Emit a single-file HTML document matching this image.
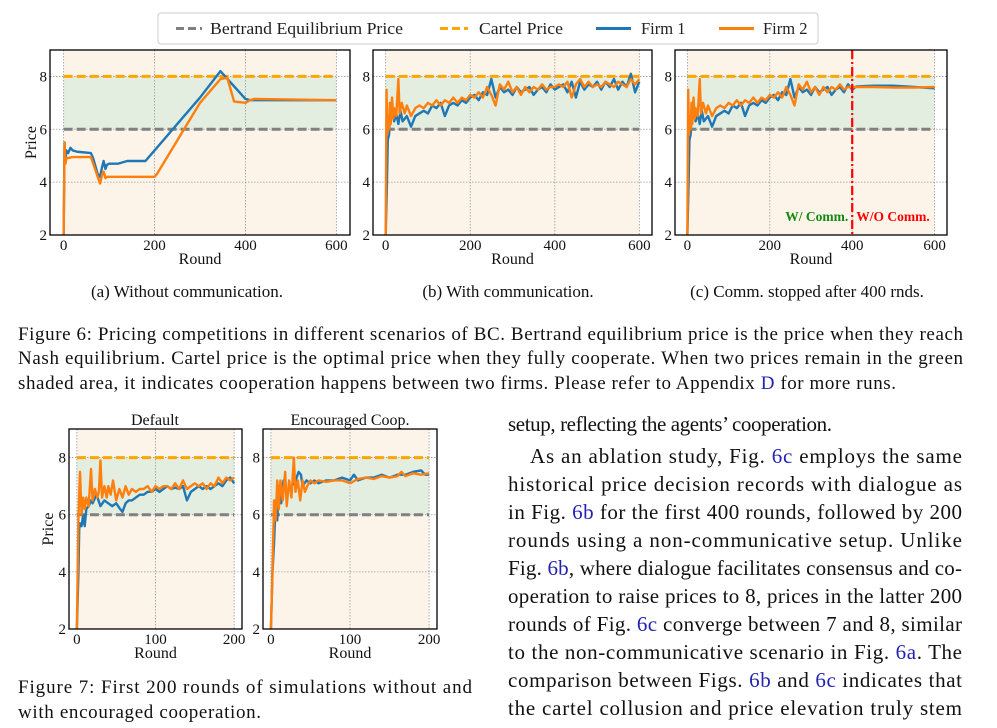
<!DOCTYPE html>
<html><head><meta charset="utf-8">
<style>
html,body{margin:0;padding:0;background:#fff;}
svg{display:block;font-family:"Liberation Serif",serif;}
</style></head>
<body>
<svg id="root" width="997" height="728" viewBox="0 0 997 728">
  <g id="charts"></g>

  <g>
    <rect x="158" y="13" width="660" height="31" rx="3" fill="#fff" stroke="#ccc" stroke-width="1"/>
    <line x1="176" y1="28.5" x2="202" y2="28.5" stroke="#808080" stroke-width="3" stroke-dasharray="8,4"/>
    <text x="210" y="34" font-size="16.5" fill="#222" textLength="193" lengthAdjust="spacingAndGlyphs">Bertrand Equilibrium Price</text>
    <line x1="440" y1="28.5" x2="468" y2="28.5" stroke="#ffa500" stroke-width="3" stroke-dasharray="8,4"/>
    <text x="479" y="34" font-size="16.5" fill="#222" textLength="84" lengthAdjust="spacingAndGlyphs">Cartel Price</text>
    <line x1="596" y1="28.5" x2="631" y2="28.5" stroke="#1f77b4" stroke-width="3"/>
    <text x="641" y="34" font-size="16.5" fill="#222">Firm 1</text>
    <line x1="719" y1="28.5" x2="754" y2="28.5" stroke="#ff7f0e" stroke-width="3"/>
    <text x="763" y="34" font-size="16.5" fill="#222">Firm 2</text>
  </g>

  <g font-size="17" fill="#111" text-anchor="middle">
    <text x="187" y="297">(a) Without communication.</text>
    <text x="508" y="297">(b) With communication.</text>
    <text x="807" y="297">(c) Comm. stopped after 400 rnds.</text>
  </g>

  <g font-size="19" fill="#111">
    <text x="18" y="340" textLength="945" lengthAdjust="spacing">Figure 6: Pricing competitions in different scenarios of BC. Bertrand equilibrium price is the price when they reach</text>
    <text x="18" y="364" textLength="945" lengthAdjust="spacing">Nash equilibrium. Cartel price is the optimal price when they fully cooperate. When two prices remain in the green</text>
    <text x="18" y="389" textLength="878" lengthAdjust="spacing">shaded area, it indicates cooperation happens between two firms. Please refer to Appendix <tspan fill="#2323b0">D</tspan> for more runs.</text>
  </g>

  <g font-size="16" fill="#111" text-anchor="middle">
    <text x="155" y="425">Default</text>
    <text x="350" y="425">Encouraged Coop.</text>
  </g>

  <g font-size="19" fill="#111">
    <text x="18" y="693" textLength="454" lengthAdjust="spacing">Figure 7: First 200 rounds of simulations without and</text>
    <text x="18" y="718" textLength="243" lengthAdjust="spacing">with encouraged cooperation.</text>
  </g>

  <g font-size="21" fill="#111">
    <text x="508" y="431" textLength="324" lengthAdjust="spacing">setup, reflecting the agents’ cooperation.</text>
    <text x="530" y="463" textLength="432" lengthAdjust="spacing">As an ablation study, Fig. <tspan fill="#2323b0">6c</tspan> employs the same</text>
    <text x="508" y="491" textLength="454" lengthAdjust="spacing">historical price decision records with dialogue as</text>
    <text x="508" y="519" textLength="454" lengthAdjust="spacing">in Fig. <tspan fill="#2323b0">6b</tspan> for the first 400 rounds, followed by 200</text>
    <text x="508" y="547" textLength="454" lengthAdjust="spacing">rounds using a non-communicative setup. Unlike</text>
    <text x="508" y="575" textLength="454" lengthAdjust="spacing">Fig. <tspan fill="#2323b0">6b</tspan>, where dialogue facilitates consensus and co-</text>
    <text x="508" y="603" textLength="454" lengthAdjust="spacing">operation to raise prices to 8, prices in the latter 200</text>
    <text x="508" y="631" textLength="454" lengthAdjust="spacing">rounds of Fig. <tspan fill="#2323b0">6c</tspan> converge between 7 and 8, similar</text>
    <text x="508" y="659" textLength="454" lengthAdjust="spacing">to the non-communicative scenario in Fig. <tspan fill="#2323b0">6a</tspan>. The</text>
    <text x="508" y="687" textLength="454" lengthAdjust="spacing">comparison between Figs. <tspan fill="#2323b0">6b</tspan> and <tspan fill="#2323b0">6c</tspan> indicates that</text>
    <text x="508" y="715" textLength="454" lengthAdjust="spacing">the cartel collusion and price elevation truly stem</text>
  </g>
</svg>

<script>
// ---------- data ----------
const bertrandPrice = 6;
const cartelPrice = 8;
const yTicks = [2, 4, 6, 8];
const xTicks600 = [0, 200, 400, 600];
const xTicks200 = [0, 100, 200];
const commStopRound = 400;

const aFirm1Rounds = [0,2,4,6,10,15,20,30,60,65,75,80,85,88,92,95,100,120,140,180,200,205,300,345,400,410,600];
const aFirm1Prices = [2,5.5,4.8,5.2,5.1,5.3,5.2,5.15,5.1,4.9,4.3,4.2,4.6,4.8,4.5,4.65,4.7,4.7,4.8,4.8,5.2,5.3,7.2,8.2,7.15,7.1,7.1];
const aFirm2Rounds = [0,2,4,6,20,60,80,85,88,92,95,100,120,200,205,300,345,360,375,400,410,420,600];
const aFirm2Prices = [2,5.5,4.7,4.9,4.95,4.95,3.95,4.3,4.4,4.15,4.2,4.2,4.2,4.2,4.3,7.0,7.9,7.95,7.05,7.0,7.1,7.15,7.1];

const bFirm1Rounds = [0,3,5,8,10,15,20,25,30,35,40,50,60,70,80,90,100,110,120,130,140,150,160,170,180,190,200,210,220,230,240,250,260,270,280,290,300,310,320,330,340,350,360,370,380,390,400,410,420,430,440,450,460,470,480,490,500,510,520,530,540,550,560,570,580,590,600];
const bFirm1Prices = [2,4,5.6,5.8,6.5,6.8,6.3,6.6,6.2,6.7,6.3,6.5,6.1,6.5,6.6,6.7,6.6,6.9,6.8,7.0,6.5,6.9,7.0,6.9,7.1,7.0,7.2,7.3,7.1,7.4,7.3,7.9,7.2,7.6,7.4,7.5,7.3,7.6,7.4,7.5,7.6,7.3,7.5,7.6,7.4,7.7,7.5,7.6,7.7,7.4,7.8,7.2,7.8,7.5,7.7,7.6,7.8,7.5,7.8,7.6,7.9,7.5,7.8,7.6,8.1,7.4,7.8];
const bFirm2Rounds = [0,2,4,6,8,10,12,15,18,20,25,30,33,38,45,50,60,70,80,90,100,110,120,130,140,150,160,170,180,190,200,210,220,230,240,250,260,270,280,290,300,310,320,330,340,350,360,370,380,390,400,410,420,430,440,450,460,470,480,490,500,510,520,530,540,550,560,570,580,590,600];
const bFirm2Prices = [2,7.5,5.8,6.5,6.0,7.0,6.2,7.2,6.4,6.8,6.5,7.9,6.6,7.0,6.6,6.9,6.5,6.8,6.9,6.8,7.0,6.9,7.1,6.9,7.1,7.0,7.2,7.0,7.2,7.1,7.3,7.2,7.4,7.2,7.6,7.3,6.9,7.7,7.5,7.8,7.4,7.6,7.3,7.6,7.4,7.6,7.5,7.7,7.5,7.6,7.6,7.7,7.6,7.8,7.2,7.7,7.9,7.6,7.8,7.6,7.7,7.6,7.8,7.7,7.6,7.8,7.7,7.6,7.9,7.7,7.9];

const cAfterFirm1Rounds = [410,450,500,550,600];
const cAfterFirm1Prices = [7.62,7.65,7.65,7.6,7.55];
const cAfterFirm2Rounds = [410,450,500,550,600];
const cAfterFirm2Prices = [7.6,7.6,7.58,7.58,7.6];

const dFirm1Rounds = [0,2,3,4,6,8,10,12,15,18,20,25,30,35,40,45,50,55,58,62,66,70,75,80,85,90,95,100,105,110,115,120,125,130,135,140,145,150,155,160,165,170,175,180,185,190,195,200];
const dFirm1Prices = [2,4,5.5,5.7,5.6,6.0,5.6,6.2,6.3,6.5,6.4,6.7,6.3,6.5,6.4,6.3,6.4,6.2,6.1,6.4,6.5,6.5,6.6,6.7,6.7,6.8,6.8,6.9,6.8,6.9,7.0,6.9,6.95,6.9,7.0,6.5,6.8,6.9,7.0,6.9,7.0,6.9,7.0,7.1,7.0,7.2,7.3,7.1];
const dFirm2Rounds = [0,2,4,6,8,10,12,15,18,20,23,26,28,30,32,35,38,40,43,46,50,54,58,62,66,70,75,80,85,90,95,100,105,110,115,120,125,130,135,140,145,150,155,160,165,170,175,180,185,190,195,200];
const dFirm2Prices = [2,5.9,7.5,6.0,6.6,6.2,6.6,6.3,7.6,6.5,6.9,6.6,6.8,7.9,6.6,7.0,6.6,7.0,6.7,7.2,6.5,6.9,6.6,7.0,6.7,6.9,6.8,6.9,6.9,7.0,6.8,7.0,6.9,7.0,7.0,6.9,7.1,6.9,7.2,6.9,7.0,7.1,7.0,7.1,6.9,7.1,7.0,7.3,7.1,7.3,7.2,7.3];

const eFirm1Rounds = [0,2,4,6,8,10,13,16,20,25,30,35,38,40,45,50,55,60,70,80,90,100,105,110,120,130,140,150,160,170,180,190,195,200];
const eFirm1Prices = [2,4,5,6.5,5.8,7.0,6.4,7.2,6.8,7.0,7.1,7.5,7.4,7.0,7.2,7.1,7.2,7.1,7.2,7.2,7.3,7.2,7.4,7.2,7.3,7.3,7.4,7.3,7.4,7.4,7.5,7.55,7.4,7.4];
const eFirm2Rounds = [0,2,4,6,8,10,12,15,18,20,23,26,29,31,34,37,40,43,46,50,55,60,70,80,90,100,110,120,130,140,150,160,165,170,180,190,200];
const eFirm2Prices = [2,4,6.5,5.8,7.2,6.2,7.2,6.5,7.5,6.3,7.2,6.6,8.0,6.8,7.2,6.5,7.2,6.8,7.0,7.2,7.1,7.2,7.15,7.2,7.2,7.1,7.25,7.3,7.25,7.35,7.3,7.35,7.5,7.35,7.45,7.4,7.45];

// ---------- drawing ----------
const NS = 'http://www.w3.org/2000/svg';
const root = document.getElementById('charts');
function mk(tag, attrs, parent) {
  const el = document.createElementNS(NS, tag);
  for (const k in attrs) el.setAttribute(k, attrs[k]);
  parent.appendChild(el);
  return el;
}

function drawChart(cfg) {
  const g = mk('g', {}, root);
  
  
  const sx = v => cfg.L + (v - cfg.x0) / (cfg.x1 - cfg.x0) * (cfg.R - cfg.L);
  const sy = v => cfg.B - (v - 2) / (9 - 2) * (cfg.B - cfg.T);
  const xMax = cfg.xTicks[cfg.xTicks.length - 1];

  const bg = mk('rect', {x: sx(0), y: cfg.T, width: sx(xMax) - sx(0), height: cfg.B - cfg.T, fill: '#fdf4e9'}, g);
  
  
  const band = mk('rect', {x: sx(0), y: sy(cartelPrice), width: sx(xMax) - sx(0), height: sy(bertrandPrice) - sy(cartelPrice), fill: '#e3eee0'}, g);
  
  

  cfg.xTicks.forEach(t => {
    const gl = mk('line', {x1: sx(t), x2: sx(t), y1: cfg.T, y2: cfg.B, stroke: '#999', 'stroke-width': 0.8, 'stroke-dasharray': '1.5,1.5'}, g);
    
    
    const tl = mk('text', {x: sx(t), y: cfg.B + 15, 'font-size': 15, 'text-anchor': 'middle', fill: '#111'}, g);
    tl.textContent = t;
    
    
  });
  yTicks.forEach(t => {
    const gl = mk('line', {x1: cfg.L, x2: cfg.R, y1: sy(t), y2: sy(t), stroke: '#999', 'stroke-width': 0.8, 'stroke-dasharray': '1.5,1.5'}, g);
    
    
    const tl = mk('text', {x: cfg.L - 3, y: sy(t) + 5, 'font-size': 15, 'text-anchor': 'end', fill: '#111'}, g);
    tl.textContent = t;
    
    
  });

  const bl = mk('line', {x1: sx(0), x2: sx(xMax), y1: sy(bertrandPrice), y2: sy(bertrandPrice), stroke: '#808080', 'stroke-width': 3, 'stroke-dasharray': '9,4'}, g);
  
  
  const cl = mk('line', {x1: sx(0), x2: sx(xMax), y1: sy(cartelPrice), y2: sy(cartelPrice), stroke: '#ffa500', 'stroke-width': 3, 'stroke-dasharray': '9,4'}, g);
  
  

  cfg.series.forEach(s => {
    const d = s.rounds.map((r, i) => (i ? 'L' : 'M') + sx(r).toFixed(2) + ',' + sy(s.prices[i]).toFixed(2)).join('');
    const p = mk('path', {d: d, fill: 'none', stroke: s.color, 'stroke-width': 2.4, 'stroke-linejoin': 'round'}, g);
    
    
  });

  if (cfg.stop !== undefined) {
    const vl = mk('line', {x1: sx(cfg.stop), x2: sx(cfg.stop), y1: cfg.T, y2: cfg.B, stroke: '#ff0000', 'stroke-width': 2.2, 'stroke-dasharray': '9,3,2,3'}, g);
    
    
    const t1 = mk('text', {x: sx(cfg.stop) - 4, y: cfg.B - 14, 'font-size': 13.5, 'font-weight': 'bold', 'text-anchor': 'end', fill: '#128a12'}, g);
    t1.textContent = 'W/ Comm.';
    
    
    const t2 = mk('text', {x: sx(cfg.stop) + 4, y: cfg.B - 14, 'font-size': 13.5, 'font-weight': 'bold', 'text-anchor': 'start', fill: '#ff0000'}, g);
    t2.textContent = 'W/O Comm.';
    
    
  }

  const fr = mk('rect', {x: cfg.L, y: cfg.T, width: cfg.R - cfg.L, height: cfg.B - cfg.T, fill: 'none', stroke: '#000', 'stroke-width': 1.3}, g);
  
  

  const xl = mk('text', {x: (cfg.L + cfg.R) / 2, y: cfg.B + 29, 'font-size': 16, 'text-anchor': 'middle', fill: '#111'}, g);
  xl.textContent = 'Round';
  
  
  if (cfg.yLabelX) {
    const cy = (cfg.T + cfg.B) / 2;
    const yl = mk('text', {x: cfg.yLabelX, y: cy, 'font-size': 16, 'text-anchor': 'middle', fill: '#111', transform: 'rotate(-90 ' + cfg.yLabelX + ' ' + cy + ')'}, g);
    yl.textContent = 'Price';
    
    
  }
}

const blue = '#1f77b4', orange = '#ff7f0e';

drawChart({name: 'chart-a-without-comm', L: 50, R: 350, T: 50, B: 235, x0: -30, x1: 630, xTicks: xTicks600, yLabelX: 36,
  series: [{name: 'firm1-line', color: blue, rounds: aFirm1Rounds, prices: aFirm1Prices},
           {name: 'firm2-line', color: orange, rounds: aFirm2Rounds, prices: aFirm2Prices}]});
drawChart({name: 'chart-b-with-comm', L: 373, R: 652, T: 50, B: 235, x0: -30, x1: 630, xTicks: xTicks600,
  series: [{name: 'firm1-line', color: blue, rounds: bFirm1Rounds, prices: bFirm1Prices},
           {name: 'firm2-line', color: orange, rounds: bFirm2Rounds, prices: bFirm2Prices}]});

function joinC(rounds, prices, afterR, afterP) {
  const r = [], p = [];
  rounds.forEach((x, i) => { if (x <= commStopRound) { r.push(x); p.push(prices[i]); } });
  return {rounds: r.concat(afterR), prices: p.concat(afterP)};
}
const c1 = joinC(bFirm1Rounds, bFirm1Prices, cAfterFirm1Rounds, cAfterFirm1Prices);
const c2 = joinC(bFirm2Rounds, bFirm2Prices, cAfterFirm2Rounds, cAfterFirm2Prices);
drawChart({name: 'chart-c-comm-stopped', L: 675, R: 947, T: 50, B: 235, x0: -30, x1: 630, xTicks: xTicks600, stop: commStopRound,
  series: [{name: 'firm1-line', color: blue, rounds: c1.rounds, prices: c1.prices},
           {name: 'firm2-line', color: orange, rounds: c2.rounds, prices: c2.prices}]});

drawChart({name: 'chart-default', L: 69, R: 242, T: 429, B: 629, x0: -10, x1: 210, xTicks: xTicks200, yLabelX: 53,
  series: [{name: 'firm1-line', color: blue, rounds: dFirm1Rounds, prices: dFirm1Prices},
           {name: 'firm2-line', color: orange, rounds: dFirm2Rounds, prices: dFirm2Prices}]});
drawChart({name: 'chart-encouraged-coop', L: 263, R: 437, T: 429, B: 629, x0: -10, x1: 210, xTicks: xTicks200,
  series: [{name: 'firm1-line', color: blue, rounds: eFirm1Rounds, prices: eFirm1Prices},
           {name: 'firm2-line', color: orange, rounds: eFirm2Rounds, prices: eFirm2Prices}]});
</script>
</body></html>
